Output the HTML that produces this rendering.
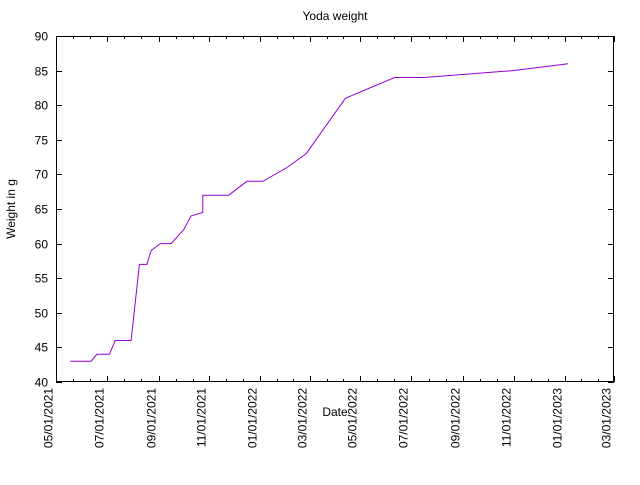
<!DOCTYPE html>
<html><head><meta charset="utf-8"><style>
body{margin:0;background:#fff;}
svg text{font-family:"Liberation Sans",sans-serif;font-size:12px;fill:#000;}
</style></head><body>
<svg width="640" height="480" viewBox="0 0 640 480" xmlns="http://www.w3.org/2000/svg">
<rect width="640" height="480" fill="#fff"/>
<text x="335" y="20" text-anchor="middle">Yoda weight</text>
<text x="335" y="416" text-anchor="middle">Date</text>
<text transform="translate(15,209) rotate(-90)" text-anchor="middle">Weight in g</text>
<g id="axes"></g>
<polyline id="series" fill="none" stroke="#9400d3" stroke-width="1"/>
</svg>
<script>
const dates=["2021-05-18","2021-06-12","2021-06-19","2021-07-04","2021-07-11","2021-07-30","2021-08-09","2021-08-18","2021-08-23","2021-09-03","2021-09-16","2021-10-01","2021-10-10","2021-10-24","2021-10-24","2021-11-24","2021-12-16","2022-01-04","2022-02-02","2022-02-25","2022-04-13","2022-06-11","2022-07-16","2022-10-31","2023-01-05"];
const weights=[43,43,44,44,46,46,57,57,59,60,60,62,64,64.5,67,67,69,69,71,73,81,84,84,85,86];
const xTickDates=["2021-05-01","2021-07-01","2021-09-01","2021-11-01","2022-01-01","2022-03-01","2022-05-01","2022-07-01","2022-09-01","2022-11-01","2023-01-01","2023-03-01"];
const xTickLabels=["05/01/2021","07/01/2021","09/01/2021","11/01/2021","01/01/2022","03/01/2022","05/01/2022","07/01/2022","09/01/2022","11/01/2022","01/01/2023","03/01/2023"];
const yTicks=[40,45,50,55,60,65,70,75,80,85,90];
const L=56,R=614,T=36,B=382;
const t0=Date.parse(xTickDates[0]),t1=Date.parse(xTickDates[xTickDates.length-1]);
const X=d=>L+(Date.parse(d)-t0)/(t1-t0)*(R-L);
const Y=v=>B-(v-40)/(90-40)*(B-T);
const NS="http://www.w3.org/2000/svg";
const g=document.getElementById('axes');
function ln(x1,y1,x2,y2,name){const e=document.createElementNS(NS,'line');
e.setAttribute('x1',x1);e.setAttribute('y1',y1);e.setAttribute('x2',x2);e.setAttribute('y2',y2);
e.setAttribute('stroke','#000');e.setAttribute('stroke-width','1');


g.appendChild(e);}
const border=document.createElementNS(NS,'rect');
border.setAttribute('x',L+0.5);border.setAttribute('y',T+0.5);border.setAttribute('width',R-L-1);border.setAttribute('height',B-T-1);
border.setAttribute('fill','none');border.setAttribute('stroke','#000');


g.appendChild(border);
yTicks.forEach(v=>{const y=Math.round(Y(v))+0.5;ln(L,y,L+6,y,'y-tick');ln(R-6,y,R,y,'y-tick-mirror');
const t=document.createElementNS(NS,'text');t.setAttribute('x',L-8);t.setAttribute('y',y+4);t.setAttribute('text-anchor','end');t.textContent=v;


g.appendChild(t);});
xTickDates.forEach((d,i)=>{const x=Math.round(X(d))+0.5;ln(x,B,x,B-6,'x-tick');ln(x,T,x,T+6,'x-tick-mirror');
if(i<xTickDates.length-1){const n=Date.parse(xTickDates[i+1]),c=Date.parse(d);
for(let k=1;k<3;k++){const xm=Math.round(L+((c+(n-c)*k/3)-t0)/(t1-t0)*(R-L))+0.5;ln(xm,B,xm,B-3,'x-minor-tick');ln(xm,T,xm,T+3,'x-minor-tick-mirror');}}
const t=document.createElementNS(NS,'text');t.setAttribute('transform','translate('+(x-4)+','+(B+6)+') rotate(-90)');t.setAttribute('text-anchor','end');t.textContent=xTickLabels[i];


g.appendChild(t);});
document.getElementById('series').setAttribute('points',dates.map((d,i)=>X(d).toFixed(1)+','+Y(weights[i]).toFixed(1)).join(' '));
</script>
</body></html>
